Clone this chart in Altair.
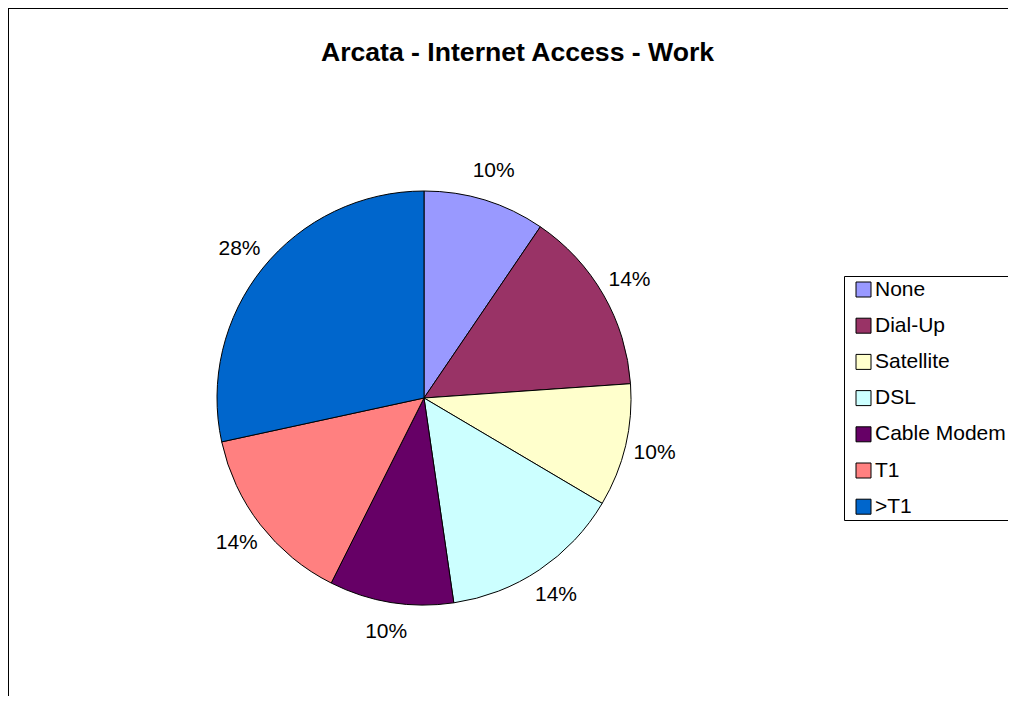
import altair as alt
import pandas as pd

title_text = "Arcata - Internet Access - Work"
categories = ["None", "Dial-Up", "Satellite", "DSL", "Cable Modem", "T1", ">T1"]
shares = [9.5, 14.4, 9.6, 14.2, 9.7, 14.2, 28.4]
labels = ["10%", "14%", "10%", "14%", "10%", "14%", "28%"]
colors = ["#9999FF", "#993366", "#FFFFCC", "#CCFFFF", "#660066", "#FF8080", "#0066CC"]

df = pd.DataFrame({
    "cat": categories,
    "share": shares,
    "label": labels,
    "idx": list(range(len(categories))),
})

W, H = 1000, 688
CX, CY = 416, 390
R = 207

base = alt.Chart(df).encode(
    theta=alt.Theta("share:Q", stack=True),
    order=alt.Order("idx:Q"),
)

pie = base.mark_arc(outerRadius=R, stroke="black", strokeWidth=1).encode(
    x=alt.value(CX),
    y=alt.value(CY),
    color=alt.Color(
        "cat:N",
        sort=categories,
        scale=alt.Scale(domain=categories, range=colors),
        legend=alt.Legend(
            title=None,
            orient="none",
            legendX=836,
            legendY=268,
            symbolType="square",
            symbolSize=225,
            symbolOffset=6,
            symbolStrokeColor="black",
            symbolStrokeWidth=1,
            labelFont="Liberation Sans",
            labelFontSize=21,
            labelColor="black",
            labelOffset=1,
            rowPadding=14.2,
            padding=3,
            strokeColor="black",
            fillColor="white",
            cornerRadius=0,
        ),
    ),
)

text = base.mark_text(
    radius=237, font="Liberation Sans", fontSize=21, color="black", baseline="middle", align="center"
).encode(
    x=alt.value(CX),
    y=alt.value(CY),
    text="label:N",
)

title_df = pd.DataFrame({"t": [title_text]})
title = alt.Chart(title_df).mark_text(
    font="Liberation Sans", fontSize=26.6, fontWeight="bold", color="black", baseline="alphabetic", align="center"
).encode(x=alt.value(509.5), y=alt.value(53), text="t:N")

border_df = pd.DataFrame({"a": [0]})
left_edge = alt.Chart(border_df).mark_rule(color="black", strokeWidth=1).encode(
    x=alt.value(0.5), y=alt.value(0), y2=alt.value(H)
)
top_edge = alt.Chart(border_df).mark_rule(color="black", strokeWidth=1).encode(
    x=alt.value(0), x2=alt.value(W), y=alt.value(0.5)
)

chart = alt.layer(pie, text, title, left_edge, top_edge).properties(
    width=W, height=H, padding=0, autosize=alt.AutoSizeParams(type="none")
).configure_view(stroke=None)

chart.save("out.html", embed_options={"renderer": "svg", "actions": False})
